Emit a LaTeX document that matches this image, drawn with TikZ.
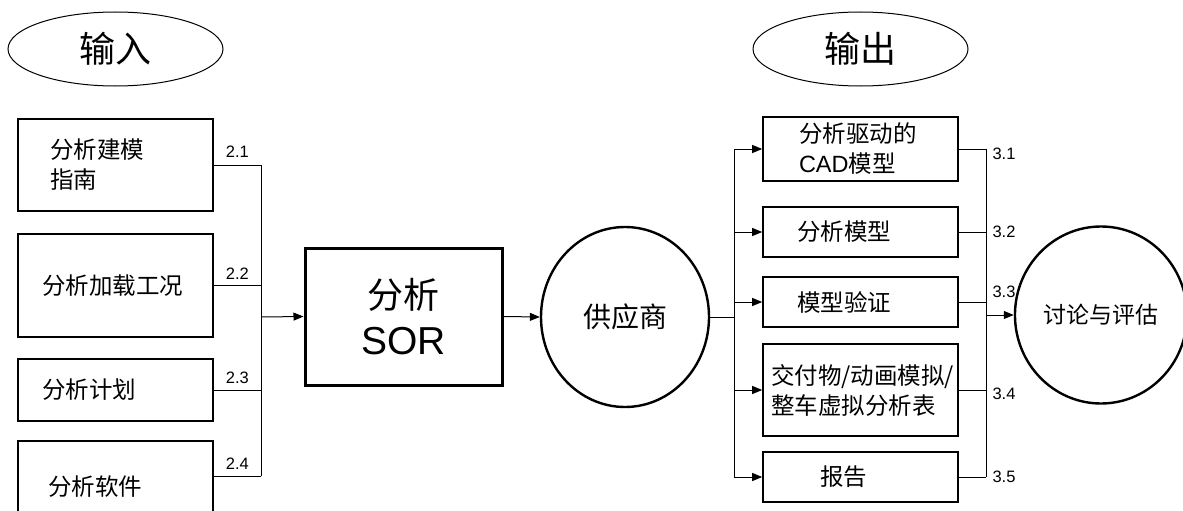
\documentclass[tikz,border=0pt]{standalone}
\usepackage{fontspec}
\setmainfont{Liberation Sans}
\newfontfamily\cjk{Noto Sans CJK SC}
\usetikzlibrary{arrows.meta,positioning,shapes.geometric}

\begin{document}
\begin{tikzpicture}[x=1pt, y=-1pt,
    arr/.style={-{Triangle[length=10pt,width=8pt]}},
    num/.style={font=\fontsize{16.5}{18}\selectfont, inner sep=2pt}]
  \useasboundingbox (0,0) rectangle (1183,511);
  \clip (0,0) rectangle (1183,511);
  % input / output tags
  \begin{scope}[every node/.style={ellipse,draw,line width=1pt,minimum width=215pt,minimum height=74pt,font=\cjk\fontsize{36}{40}\selectfont}]
    \node (in) at (115.5,49) {输入};
    \node (out) at (860.5,49) {输出};
  \end{scope}
  % boxes
  \begin{scope}[every node/.style={rectangle,draw,line width=1.6pt,align=left,font=\cjk\fontsize{23.5}{30}\selectfont}]
    \node[inner xsep=32pt,text width=131pt,minimum height=92pt] (guide) at (115.5,165) {分析建模\\指南};
    \node[inner xsep=24pt,text width=147pt,minimum height=103pt] (load) at (115.5,285.5) {分析加载工况};
    \node[inner xsep=24pt,text width=147pt,minimum height=62pt] (plan) at (115.5,390) {分析计划};
    \node[inner xsep=30pt,text width=135pt,minimum height=92pt] (soft) at (115.5,487) {分析软件};
    \node[inner xsep=36pt,text width=123pt,minimum height=64pt] (cadm) at (860.5,149) {分析驱动的\\{\rmfamily CAD}模型};
    \node[inner xsep=34pt,text width=127pt,minimum height=50pt] (anam) at (860.5,232) {分析模型};
    \node[inner xsep=34pt,text width=127pt,minimum height=50pt] (valid) at (860.5,302) {模型验证};
    \node[inner xsep=8pt,text width=179pt,minimum height=92pt] (deliv) at (860.5,390) {交付物/动画模拟/\\整车虚拟分析表};
    \node[inner xsep=57pt,text width=81pt,minimum height=50pt] (rep) at (860.5,477) {报告};
    \node[line width=3pt,align=center,minimum width=197pt,minimum height=137pt,font=\fontsize{39}{46}\selectfont] (sor) at (403.5,316.5) {{\cjk\fontsize{36}{46}\selectfont 分析}\\SOR};
  \end{scope}
  % circles
  \begin{scope}[every node/.style={ellipse,draw,line width=2.4pt,font=\cjk}]
    \node[minimum width=168pt,minimum height=180pt,font=\cjk\fontsize{28}{32}\selectfont] (supp) at (625,317) {供应商};
    \node[minimum width=166pt,minimum height=177pt,font=\cjk\fontsize{23}{28}\selectfont] (eval) at (1101,315) {讨论与评估};
  \end{scope}
  % connectors
  \coordinate (ltop) at (261,166);
  \coordinate (lbot) at (261,476);
  \coordinate (lmid) at (261,317);
  \coordinate (rsplit) at (734,317);
  \coordinate (rtop) at (986,149);
  \coordinate (rmid) at (986,315);
  \begin{scope}[line width=1pt]
    \draw (guide.east) -- node[num,above=5pt] {2.1} (guide.east -| ltop) -- (lbot);
    \draw (load.east) -- node[num,above=4pt] {2.2} (load.east -| ltop);
    \draw (plan.east) -- node[num,above=4pt] {2.3} (plan.east -| ltop);
    \draw ([yshift=11pt]soft.east) -- node[num,above=4pt] {2.4} (lbot);
    \draw[arr] (lmid) -- (sor.west);
    \draw[arr] (sor.east) -- (supp.west);
    \draw (supp.east) -- (rsplit);
    \draw (cadm.west -| rsplit) -- (rep.west -| rsplit);
    \foreach \b in {cadm,anam,valid,deliv,rep}
      \draw[arr] (\b.west -| rsplit) -- (\b.west);
    \draw (cadm.east) -- (cadm.east -| rtop) node[num,right=4pt,yshift=-5pt] {3.1} -- (rep.east -| rtop);
    \draw (anam.east) -- (anam.east -| rtop) node[num,right=4pt] {3.2};
    \draw (valid.east) -- (valid.east -| rtop) node[num,right=4pt,yshift=10pt] {3.3};
    \draw (deliv.east) -- (deliv.east -| rtop) node[num,right=4pt,yshift=-4pt] {3.4};
    \draw (rep.east) -- (rep.east -| rtop) node[num,right=4pt] {3.5};
    \draw[arr] (rmid) -- (eval.west);
  \end{scope}
\end{tikzpicture}
\end{document}
